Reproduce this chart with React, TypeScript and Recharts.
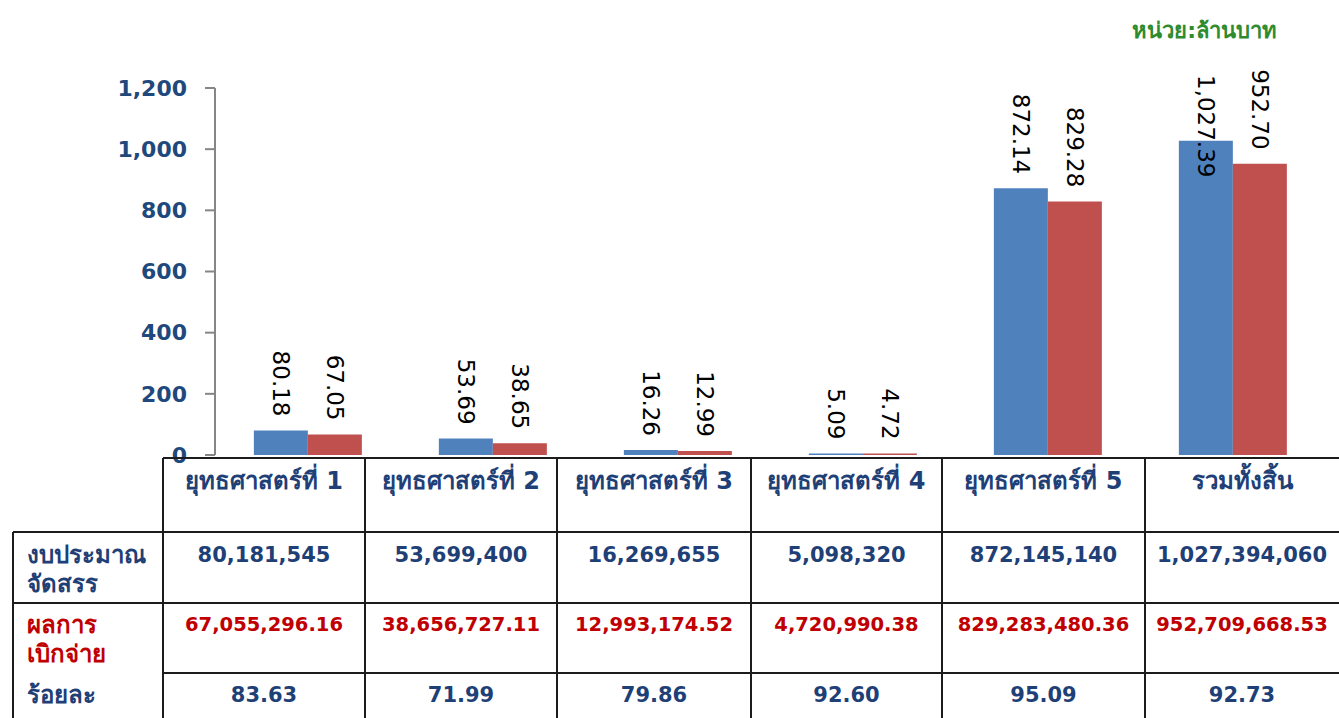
import { BarChart, Bar, XAxis, YAxis, LabelList } from 'recharts';

// values in million baht
const categories = ['ยุทธศาสตร์ที่ 1', 'ยุทธศาสตร์ที่ 2', 'ยุทธศาสตร์ที่ 3', 'ยุทธศาสตร์ที่ 4', 'ยุทธศาสตร์ที่ 5', 'รวมทั้งสิ้น'];
const allocated = [80.18, 53.69, 16.26, 5.09, 872.14, 1027.39];
const disbursed = [67.05, 38.65, 12.99, 4.72, 829.28, 952.7];
const yTicks = [0, 200, 400, 600, 800, 1000, 1200];

// table rows (baht)
const allocatedText = ['80,181,545', '53,699,400', '16,269,655', '5,098,320', '872,145,140', '1,027,394,060'];
const disbursedText = ['67,055,296.16', '38,656,727.11', '12,993,174.52', '4,720,990.38', '829,283,480.36', '952,709,668.53'];
const percentText = ['83.63', '71.99', '79.86', '92.60', '95.09', '92.73'];

const data = categories.map((name, i) => ({ name, allocated: allocated[i], disbursed: disbursed[i] }));

const BLUE = '#4F81BD';
const RED = '#C0504D';
const NAVY = '#1F3F77';
const TH_FONT = "Tahoma, 'DejaVu Sans', 'Noto Sans', sans-serif";

const fmt = (v: number) => v.toLocaleString('en-US', { minimumFractionDigits: 2, maximumFractionDigits: 2 });

// rotated value label above each bar
const VerticalLabel = (props: any) => {
  const { x, y, width, value } = props;
  const text = fmt(Number(value));
  const cx = Number(x) + Number(width) / 2;
  const yEnd = Number(y) - 14;
  let len = 0;
  for (const ch of text) len += ch === ',' || ch === '.' ? 7.5 : 14.6;
  const clamped = yEnd - len < 66;
  const ty = clamped ? 75 : yEnd;
  return (
    <text
      x={cx}
      y={ty}
      transform={`rotate(90, ${cx}, ${ty})`}
      textAnchor={clamped ? 'start' : 'end'}
      dy="0.36em"
      fontFamily="'DejaVu Sans', sans-serif"
      fontSize={23}
      fill="#000"
    >
      {text}
    </text>
  );
};

const colX = [163, 365, 557, 751, 942, 1145, 1345];
const LINE = '#1c1c1c';

const hLine = (y: number, x1: number, x2: number, key: string) => (
  <div key={key} style={{ position: 'absolute', left: x1, top: y - 1, width: x2 - x1, height: 2, background: LINE }} />
);
const vLine = (x: number, y1: number, y2: number, key: string) => (
  <div key={key} style={{ position: 'absolute', left: x - 1, top: y1, width: 2, height: y2 - y1, background: LINE }} />
);

const cellText = (i: number, cy: number, text: string, color: string, size: number, key: string) => (
  <div
    key={key}
    style={{
      position: 'absolute',
      left: colX[i],
      width: (i === 5 ? 1339 : colX[i + 1]) - colX[i],
      top: cy - 16,
      height: 32,
      lineHeight: '32px',
      textAlign: 'center',
      color,
      fontSize: size,
      fontWeight: 'bold',
      fontFamily: TH_FONT,
      whiteSpace: 'nowrap',
    }}
  >
    {text}
  </div>
);

const rowLabel = (cy: number, text: string, color: string, key: string) => (
  <div
    key={key}
    style={{
      position: 'absolute',
      left: 27,
      top: cy - 16,
      height: 32,
      lineHeight: '32px',
      color,
      fontSize: 24,
      fontWeight: 'bold',
      fontFamily: TH_FONT,
      whiteSpace: 'nowrap',
    }}
  >
    {text}
  </div>
);

export default function App() {
  return (
    <div style={{ position: 'absolute', left: 0, top: 0, width: 1339, height: 718, overflow: 'hidden', background: '#fff' }}>
      <BarChart
        width={1339}
        height={718}
        data={data}
        margin={{ top: 88, right: 14, bottom: 263, left: 0 }}
        barGap={0}
        barCategoryGap="21%"
      >
        <XAxis dataKey="name" hide />
        <YAxis
          width={215}
          domain={[0, 1200]}
          ticks={yTicks}
          interval={0}
          tickFormatter={(v: number) => v.toLocaleString('en-US')}
          tickSize={10}
          tickMargin={18}
          axisLine={{ stroke: '#868686', strokeWidth: 2 }}
          tickLine={{ stroke: '#868686', strokeWidth: 2 }}
          tick={{ fill: '#1F497D', fontSize: 22, fontWeight: 'bold', fontFamily: "'DejaVu Sans', sans-serif" }}
        />
        <Bar dataKey="allocated" fill={BLUE} isAnimationActive={false}>
          <LabelList dataKey="allocated" content={VerticalLabel} />
        </Bar>
        <Bar dataKey="disbursed" fill={RED} isAnimationActive={false}>
          <LabelList dataKey="disbursed" content={VerticalLabel} />
        </Bar>
      </BarChart>

      <div
        style={{
          position: 'absolute',
          right: 62,
          top: 13,
          color: '#2E8B2E',
          fontSize: 22,
          fontWeight: 'bold',
          fontFamily: TH_FONT,
          whiteSpace: 'nowrap',
        }}
      >
        หน่วย:ล้านบาท
      </div>

      {/* table under the chart */}
      {hLine(458, 163, 1339, 'h0')}
      {hLine(532, 13, 1339, 'h1')}
      {hLine(603, 13, 1339, 'h2')}
      {hLine(673, 163, 1339, 'h3')}
      {vLine(13, 532, 718, 'v0')}
      {colX.slice(0, 6).map((x, i) => vLine(x, 458, 718, `vc${i}`))}

      {categories.map((c, i) => cellText(i, 481, c, NAVY, 24, `hd${i}`))}
      {allocatedText.map((t, i) => cellText(i, 555, t, NAVY, 21, `a${i}`))}
      {disbursedText.map((t, i) => cellText(i, 625, t, '#C00000', 19.5, `d${i}`))}
      {percentText.map((t, i) => cellText(i, 695, t, NAVY, 21, `p${i}`))}

      {rowLabel(555, 'งบประมาณ', NAVY, 'l1')}
      {rowLabel(584, 'จัดสรร', NAVY, 'l2')}
      {rowLabel(625, 'ผลการ', '#C00000', 'l3')}
      {rowLabel(654, 'เบิกจ่าย', '#C00000', 'l4')}
      {rowLabel(695, 'ร้อยละ', NAVY, 'l5')}
    </div>
  );
}
